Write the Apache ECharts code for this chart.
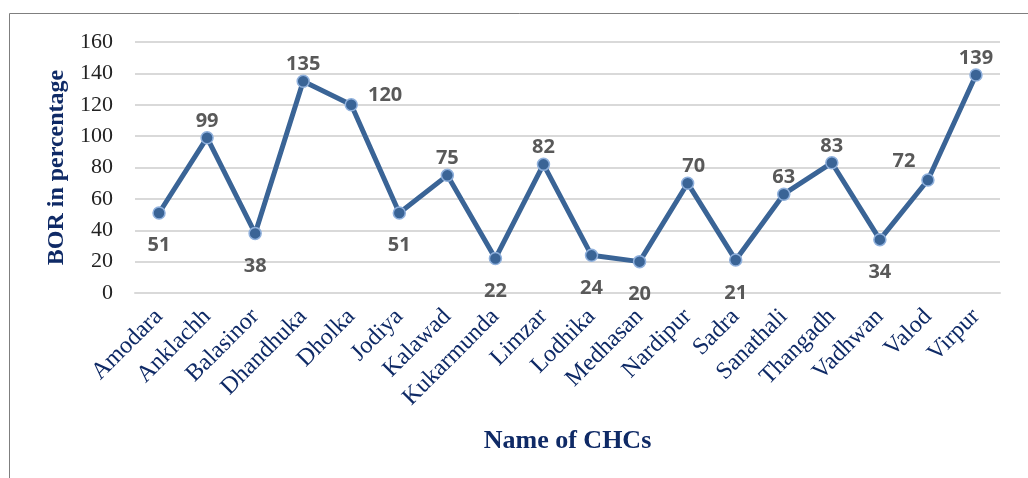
<!DOCTYPE html>
<html>
<head>
<meta charset="utf-8">
<script src="https://cdn.jsdelivr.net/npm/echarts@6/dist/echarts.min.js"></script>
<style>
  html, body { margin: 0; padding: 0; background: #fff; }
  #chart { width: 1028px; height: 478px; }
</style>
</head>
<body>
<div id="chart"></div>
<script>
const categories = ["Amodara", "Anklachh", "Balasinor", "Dhandhuka", "Dholka", "Jodiya", "Kalawad", "Kukarmunda", "Limzar", "Lodhika", "Medhasan", "Nardipur", "Sadra", "Sanathali", "Thangadh", "Vadhwan", "Valod", "Virpur"];
const borValues = [51, 99, 38, 135, 120, 51, 75, 22, 82, 24, 20, 70, 21, 63, 83, 34, 72, 139];
// where each data label sits relative to its point
const labelSides = ["bottom", "top", "bottom", "top", "right", "bottom", "top", "bottom", "top", "bottom", "bottom", "top", "bottom", "top", "top", "bottom", "topleft", "top"];

const chart = echarts.init(document.getElementById("chart"));

const seriesData = borValues.map((v, i) => {
  const side = labelSides[i];
  let label = { position: side, distance: side === "bottom" ? 16 : 0 };
  if (side === "topleft") label = { position: "top", distance: 2, offset: [-24, 0] };
  if (side === "right") label = { position: "right", distance: 10, offset: [0, -9] };
  if (i === 11) label.offset = [6, 0];
  return { value: v, label: label };
});

const option = {
  backgroundColor: "#fff",
  animation: false,
  graphic: [{
    type: "rect",
    shape: { x: 9.5, y: 13.5, width: 1030, height: 480 },
    style: { fill: "none", stroke: "#7f7f7f", lineWidth: 1 }
  }],
  grid: { left: 135, right: 28, top: 42, bottom: 185 },
  xAxis: {
    type: "category",
    data: categories,
    axisLine: { lineStyle: { color: "#d9d9d9", width: 2 } },
    axisTick: { show: false },
    axisLabel: {
      rotate: 45,
      interval: 0,
      margin: 20,
      color: "#0f2a66",
      fontFamily: "Liberation Serif",
      fontSize: 24
    },
    name: "Name of CHCs",
    nameLocation: "middle",
    nameGap: 135,
    nameTextStyle: {
      color: "#0f2a66",
      fontFamily: "Liberation Serif",
      fontWeight: "bold",
      fontSize: 26
    }
  },
  yAxis: {
    type: "value",
    min: 0,
    max: 160,
    interval: 20,
    axisLine: { show: false },
    axisTick: { show: false },
    splitLine: { lineStyle: { color: "#d9d9d9", width: 2 } },
    axisLabel: {
      color: "#222",
      fontFamily: "Liberation Serif",
      fontSize: 22,
      margin: 22
    },
    name: "BOR in percentage",
    nameLocation: "middle",
    nameGap: 60,
    nameTextStyle: {
      color: "#0f2a66",
      fontFamily: "Liberation Serif",
      fontWeight: "bold",
      fontSize: 24
    }
  },
  series: [{
    type: "line",
    data: seriesData,
    symbol: "circle",
    symbolSize: 12,
    lineStyle: { color: "#3a6496", width: 5 },
    itemStyle: { color: "#3a6496", borderColor: "#8fb0dc", borderWidth: 1.5 },
    label: {
      show: true,
      color: "#595959",
      fontFamily: "Open Sans",
      fontWeight: "bold",
      fontSize: 20
    }
  }]
};

chart.setOption(option);
</script>
</body>
</html>
